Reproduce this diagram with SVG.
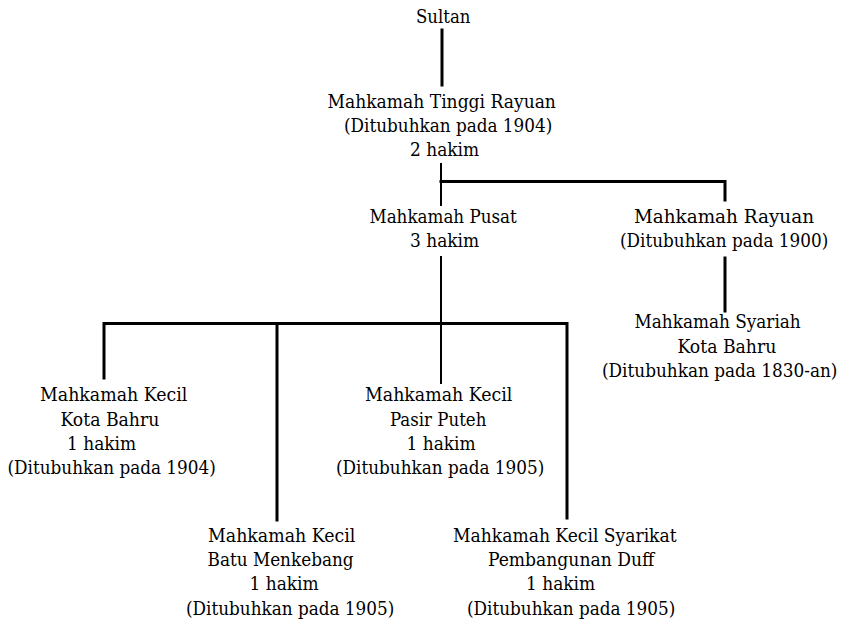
<svg xmlns="http://www.w3.org/2000/svg" width="842" height="620" viewBox="0 0 842 620">
<style>
text{font-family:"DejaVu Serif Condensed","DejaVu Serif","Liberation Serif","Times New Roman",serif;font-stretch:condensed;font-size:19px;fill:#000}
.c{fill:none;stroke:#000;stroke-width:3;stroke-linecap:square}
.t{fill:none;stroke:#000;stroke-width:2}
</style>
<rect width="842" height="620" fill="#fff"/>
<g id="connectors">
<path class="c" d="M442 30V85"/>
<path class="t" d="M441 163V206"/>
<path class="c" d="M441 181.5H725V200"/>
<path class="c" d="M725 258V311"/>
<path class="t" d="M441 256V384"/>
<path class="c" d="M104 378V323.5H567V518"/>
<path class="c" d="M277 323.5V520"/>
</g>
<g id="sultan"><text x="416" y="23" textLength="54.4" lengthAdjust="spacingAndGlyphs">Sultan</text></g>
<g id="tinggi">
<text x="327.5" y="108" textLength="228.4" lengthAdjust="spacingAndGlyphs">Mahkamah Tinggi Rayuan</text>
<text x="344" y="132" textLength="208.2" lengthAdjust="spacingAndGlyphs">(Ditubuhkan pada 1904)</text>
<text x="410" y="156" textLength="69.2" lengthAdjust="spacingAndGlyphs">2 hakim</text>
</g>
<g id="pusat">
<text x="369.5" y="222.5" textLength="147.3" lengthAdjust="spacingAndGlyphs">Mahkamah Pusat</text>
<text x="410" y="246.5" textLength="69.2" lengthAdjust="spacingAndGlyphs">3 hakim</text>
</g>
<g id="rayuan">
<text x="634" y="222.5" textLength="180" lengthAdjust="spacingAndGlyphs">Mahkamah Rayuan</text>
<text x="620" y="246.5" textLength="208.2" lengthAdjust="spacingAndGlyphs">(Ditubuhkan pada 1900)</text>
</g>
<g id="syariah">
<text x="634.5" y="328" textLength="166.2" lengthAdjust="spacingAndGlyphs">Mahkamah Syariah</text>
<text x="677.5" y="352.5" textLength="98.8" lengthAdjust="spacingAndGlyphs">Kota Bahru</text>
<text x="602" y="377" textLength="235.4" lengthAdjust="spacingAndGlyphs">(Ditubuhkan pada 1830-an)</text>
</g>
<g id="kotabahru">
<text x="40" y="401" textLength="147.3" lengthAdjust="spacingAndGlyphs">Mahkamah Kecil</text>
<text x="60.5" y="425.5" textLength="98.8" lengthAdjust="spacingAndGlyphs">Kota Bahru</text>
<text x="67" y="449.5" textLength="69.2" lengthAdjust="spacingAndGlyphs">1 hakim</text>
<text x="7.5" y="474" textLength="208.2" lengthAdjust="spacingAndGlyphs">(Ditubuhkan pada 1904)</text>
</g>
<g id="pasirputeh">
<text x="365" y="401" textLength="147.3" lengthAdjust="spacingAndGlyphs">Mahkamah Kecil</text>
<text x="390" y="425.5" textLength="96.4" lengthAdjust="spacingAndGlyphs">Pasir Puteh</text>
<text x="406.5" y="449.5" textLength="69.2" lengthAdjust="spacingAndGlyphs">1 hakim</text>
<text x="336" y="474" textLength="208.2" lengthAdjust="spacingAndGlyphs">(Ditubuhkan pada 1905)</text>
</g>
<g id="batumenkebang">
<text x="208" y="541.5" textLength="147.3" lengthAdjust="spacingAndGlyphs">Mahkamah Kecil</text>
<text x="207.5" y="566" textLength="146.1" lengthAdjust="spacingAndGlyphs">Batu Menkebang</text>
<text x="249.5" y="590" textLength="69.2" lengthAdjust="spacingAndGlyphs">1 hakim</text>
<text x="186" y="615" textLength="208.2" lengthAdjust="spacingAndGlyphs">(Ditubuhkan pada 1905)</text>
</g>
<g id="duff">
<text x="453" y="541.5" textLength="223.6" lengthAdjust="spacingAndGlyphs">Mahkamah Kecil Syarikat</text>
<text x="488" y="566" textLength="166.2" lengthAdjust="spacingAndGlyphs">Pembangunan Duff</text>
<text x="526" y="590" textLength="69.2" lengthAdjust="spacingAndGlyphs">1 hakim</text>
<text x="467" y="615" textLength="208.2" lengthAdjust="spacingAndGlyphs">(Ditubuhkan pada 1905)</text>
</g>
</svg>
